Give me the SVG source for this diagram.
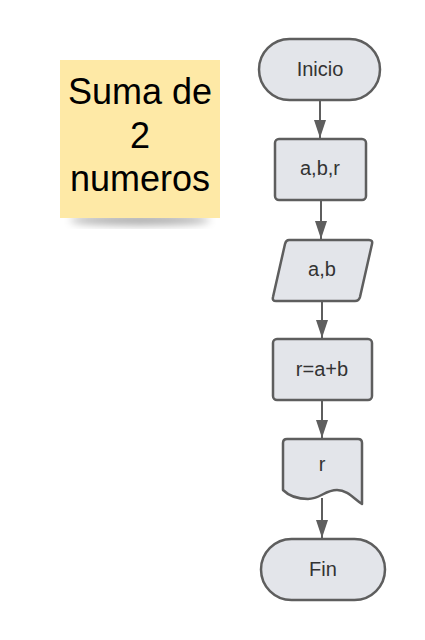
<svg xmlns="http://www.w3.org/2000/svg" width="425" height="640" viewBox="0 0 425 640">
<defs>
<style>
.n{fill:#e3e5ea;stroke:#5e5e5e;stroke-width:2.5;stroke-linejoin:round}
.t{font-family:"Liberation Sans",Arial,sans-serif;font-size:20px;fill:#333;text-anchor:middle}
.c{stroke:#5e5e5e;stroke-width:2;fill:none}
.s{font-family:"Liberation Sans",Arial,sans-serif;font-size:36px;fill:#000;text-anchor:middle}
</style>
<marker id="ah" markerWidth="19" markerHeight="13" refX="18" refY="6.5" orient="auto" markerUnits="userSpaceOnUse">
<path d="M0,0.5 L18,6.5 L0,12.5 Z" fill="#5e5e5e"/>
</marker>
<filter id="sh" x="-20%" y="-20%" width="140%" height="160%">
<feGaussianBlur stdDeviation="4"/>
</filter>
</defs>
<rect width="425" height="640" fill="#fff"/>
<g id="note">
<ellipse cx="140" cy="220" rx="70" ry="5" fill="#000" opacity="0.35" filter="url(#sh)"/>
<rect x="60" y="60" width="160" height="158" fill="#fee9a6"/>
<text class="s" x="140" y="104">Suma de</text>
<text class="s" x="140" y="148">2</text>
<text class="s" x="140" y="191">numeros</text>
</g>
<g id="connectors">
<line class="c" x1="320" y1="100" x2="320" y2="138" marker-end="url(#ah)"/>
<line class="c" x1="321" y1="200" x2="321" y2="239" marker-end="url(#ah)"/>
<line class="c" x1="322" y1="301" x2="322" y2="338" marker-end="url(#ah)"/>
<line class="c" x1="322" y1="400" x2="322" y2="438" marker-end="url(#ah)"/>
<line class="c" x1="322" y1="498" x2="322" y2="538" marker-end="url(#ah)"/>
</g>
<g id="inicio">
<rect class="n" x="259" y="39" width="121" height="61" rx="30.5"/>
<text class="t" x="320" y="76">Inicio</text>
</g>
<g id="decl">
<rect class="n" x="275" y="139" width="91" height="61" rx="4"/>
<text class="t" x="320" y="175">a,b,r</text>
</g>
<g id="input">
<path class="n" d="M289,240 L369,240 Q373,240 372,244 L360,297 Q359,301 355,301 L276,301 Q272,301 273,297 L285,244 Q286,240 289,240 Z"/>
<text class="t" x="322" y="276">a,b</text>
</g>
<g id="proc">
<rect class="n" x="273" y="339" width="99" height="61" rx="4"/>
<text class="t" x="322" y="376">r=a+b</text>
</g>
<g id="output">
<path class="n" d="M287,439 L358,439 Q362,439 362,443 L362,504 C355,500 348,490 337,490 C325,490 320,499 308,499 C300,499 290,497 283,490 L283,443 Q283,439 287,439 Z"/>
<text class="t" x="322" y="471">r</text>
</g>
<g id="fin">
<rect class="n" x="261" y="539" width="124" height="61" rx="30.5"/>
<text class="t" x="323" y="576">Fin</text>
</g>
</svg>
